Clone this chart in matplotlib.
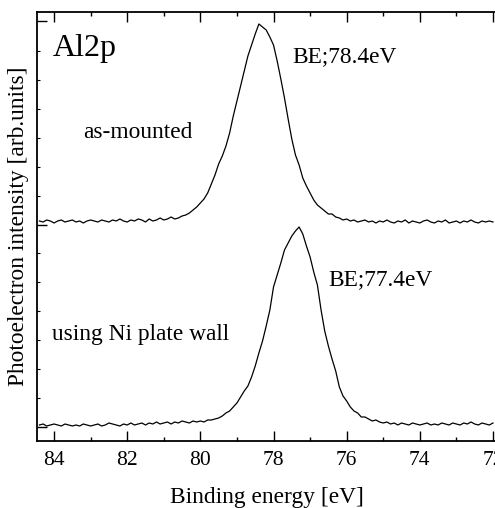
import numpy as np
import matplotlib
matplotlib.use("Agg")
from matplotlib import pyplot as plt
from matplotlib.ticker import MultipleLocator, FixedLocator

plt.rcParams['font.family'] = ['Liberation Serif', 'DejaVu Serif']

# binding energy grid, 84.4 -> 72.0 eV in 0.1 eV steps
energy = np.round(np.arange(84.4, 71.95, -0.1), 1)

# upper spectrum: as-mounted (peak 78.4 eV)
as_mounted = [
    220, 219, 221, 220, 218, 220, 221, 219, 220, 221,   # 84.4 - 83.5
    219, 220, 218, 220, 221, 220, 219, 221, 220, 219,   # 83.4 - 82.5
    221, 220, 222, 220, 219, 221, 220, 222, 221, 219,   # 82.4 - 81.5
    222, 220, 221, 223, 221, 222, 224, 222, 223,        # 81.4 - 80.6
    225, 226, 228, 231, 234, 238, 242, 248, 257, 266,   # 80.5 - 79.6
    277, 285, 295, 308, 325, 340, 355, 370, 385, 396,   # 79.5 - 78.6
    407, 417, 414, 411, 404, 396, 380, 362, 343, 322,   # 78.5 - 77.6
    302, 286, 276, 263, 255, 248, 241, 236, 233, 230,   # 77.5 - 76.6
    227, 227, 224, 223, 221, 222, 220, 221, 219, 220,   # 76.5 - 75.6
    221, 219, 220, 218, 220, 219, 221, 219, 218, 220,   # 75.5 - 74.6
    219, 221, 218, 220, 219, 218, 220, 221, 219, 218,   # 74.5 - 73.6
    220, 219, 221, 218, 219, 220, 218, 220, 219, 221,   # 73.5 - 72.6
    219, 218, 220, 219, 220, 219,                       # 72.5 - 72.0
]

# lower spectrum: using Ni plate wall (peak 77.3 eV)
ni_wall = [
    16, 17, 15, 16, 17, 16, 15, 17, 16, 15,             # 84.4 - 83.5
    16, 15, 17, 16, 15, 16, 17, 15, 16, 18,             # 83.4 - 82.5
    17, 16, 15, 17, 16, 18, 16, 17, 18, 16,             # 82.4 - 81.5
    18, 17, 19, 17, 18, 19, 17, 19, 18, 20,             # 81.4 - 80.5
    19, 18, 20, 19, 20, 19, 21, 21, 22, 23,             # 80.4 - 79.5
    25, 28, 30, 34, 38, 44, 50, 55, 64, 75,             # 79.4 - 78.5
    88, 100, 115, 131, 154, 166, 178, 191, 198, 205,    # 78.4 - 77.5
    210, 214, 207, 195, 184, 169, 156, 131, 110, 95,    # 77.4 - 76.5
    82, 70, 54, 45, 40, 34, 30, 28, 24, 24,             # 76.4 - 75.5
    22, 20, 21, 19, 18, 19, 17, 18, 16, 18,             # 75.4 - 74.5
    17, 16, 18, 17, 16, 17, 18, 16, 17, 16,             # 74.4 - 73.5
    18, 17, 16, 18, 17, 16, 18, 17, 19, 17,             # 73.4 - 72.5
    16, 18, 17, 16, 18,                                 # 72.4 - 72.0
]

fig = plt.figure(figsize=(4.95, 5.08), dpi=100)
ax = fig.add_axes([37 / 495, 67 / 508, 460 / 495, 429 / 508])

ax.plot(energy, as_mounted, color='black', lw=0.9)
ax.plot(energy, ni_wall, color='black', lw=0.9)

ax.set_xlim(84.466, 71.89)
ax.set_ylim(0, 429)

ax.spines['right'].set_visible(False)
for s in ['left', 'top', 'bottom']:
    ax.spines[s].set_linewidth(1.3)

ax.xaxis.set_major_locator(MultipleLocator(2))
ax.xaxis.set_minor_locator(MultipleLocator(1))
ax.tick_params(axis='x', which='both', direction='in', top=True, bottom=True)
ax.tick_params(axis='x', which='major', length=7, width=1, labelsize=15.5, pad=7.5)
ax.tick_params(axis='x', which='minor', length=3, width=1)

ax.yaxis.set_major_locator(FixedLocator([14, 216, 420]))
ax.yaxis.set_minor_locator(FixedLocator([43, 72, 101, 130, 159, 188, 245, 274, 303, 332, 361, 390]))
ax.tick_params(axis='y', which='both', direction='in', left=True, right=False, labelleft=False)
ax.tick_params(axis='y', which='major', length=7, width=1)
ax.tick_params(axis='y', which='minor', length=2, width=0.8)

ax.set_xlabel('Binding energy [eV]', fontsize=16.8, labelpad=12)
ax.set_ylabel('Photoelectron intensity [arb.units]', fontsize=16.8, labelpad=6)

ax.text(0.035, 0.915, 'Al2p', transform=ax.transAxes, fontsize=23, va='center', ha='left')
ax.text(0.1, 0.72, 'as-mounted', transform=ax.transAxes, fontsize=16.8, va='center', ha='left')
ax.text(0.556, 0.896, 'BE;78.4eV', transform=ax.transAxes, fontsize=16.8, va='center', ha='left')
ax.text(0.633, 0.376, 'BE;77.4eV', transform=ax.transAxes, fontsize=16.8, va='center', ha='left')
ax.text(0.033, 0.248, 'using Ni plate wall', transform=ax.transAxes, fontsize=16.8, va='center', ha='left')

fig.savefig('out.png', dpi=100)
